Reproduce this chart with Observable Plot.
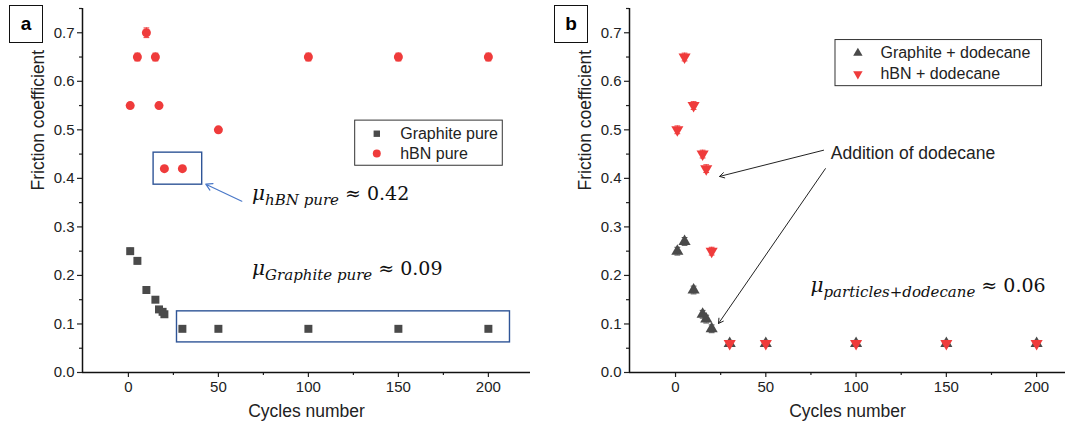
<!DOCTYPE html>
<html><head><meta charset="utf-8">
<script src="https://cdn.jsdelivr.net/npm/d3@7"></script>
<script src="https://cdn.jsdelivr.net/npm/@observablehq/plot@0.6"></script>
<style>
body{margin:0;background:#fff;font-family:"Liberation Sans",Arial,sans-serif}
#wrap{position:relative;width:1076px;height:434px;display:flex;overflow:hidden}
.tag{position:absolute;top:5px;width:34px;height:38px;border:1.5px solid #111;font:bold 19px "Liberation Sans",Arial,sans-serif;display:flex;align-items:center;justify-content:center;box-sizing:border-box;background:#fff}
</style></head><body>
<div id="wrap"><div class="tag" style="left:9px">a</div><div class="tag" style="left:554px">b</div></div>
<script>
// ---- data ----
const graphitePureX = [1,5,10,15,17,19,20,30,50,100,150,200];
const graphitePureY = [0.25,0.23,0.17,0.15,0.13,0.125,0.12,0.09,0.09,0.09,0.09,0.09];
const graphitePureErr = [0.006,0.006,0.005,0.005,0.005,0.005,0.005,0.003,0.003,0.003,0.003,0.003];
const hbnPureX = [1,5,10,15,17,20,30,50,100,150,200];
const hbnPureY = [0.55,0.65,0.70,0.65,0.55,0.42,0.42,0.50,0.65,0.65,0.65];
const hbnPureErr = [0.006,0.008,0.01,0.008,0.006,0.004,0.004,0.004,0.008,0.008,0.008];
const graphiteDodX = [1,5,10,15,17,20,30,50,100,150,200];
const graphiteDodY = [0.25,0.27,0.17,0.12,0.11,0.09,0.06,0.06,0.06,0.06,0.06];
const graphiteDodErr = [0.008,0.008,0.008,0.008,0.008,0.008,0.006,0.006,0.006,0.006,0.006];
const hbnDodX = [1,5,10,15,17,20,30,50,100,150,200];
const hbnDodY = [0.50,0.65,0.55,0.45,0.42,0.25,0.06,0.06,0.06,0.06,0.06];
const hbnDodErr = [0.008,0.008,0.008,0.008,0.008,0.008,0.006,0.006,0.006,0.006,0.006];
const yTicks = [0,0.1,0.2,0.3,0.4,0.5,0.6,0.7];
const yMinor = [0.05,0.15,0.25,0.35,0.45,0.55,0.65,0.75];
const xTicks = [0,50,100,150,200];
const xMinor = [25,75,125,175];
const legendA = ["Graphite pure","hBN pure"];
const legendB = ["Graphite + dodecane","hBN + dodecane"];

const RED = "#ef3b3b", GRAY = "#4a4a4a", BLUE = "#2f5597", ABLUE = "#4a78c8";
const zip = (xs, ys, es) => xs.map((x,i)=>({x, y: ys[i], e: es[i]}));
const triDown = {draw(ctx, size){const s3=Math.sqrt(3);const y=-Math.sqrt(size/(s3*3));ctx.moveTo(0,-y*2);ctx.lineTo(-s3*y,y);ctx.lineTo(s3*y,y);ctx.closePath();}};

function errMarks(data, color){
  return [
    Plot.ruleX(data,{x:"x",y1:d=>d.y-d.e,y2:d=>d.y+d.e,stroke:color,strokeWidth:1}),
    Plot.link(data,{x1:d=>d.x-1.6,x2:d=>d.x+1.6,y1:d=>d.y+d.e,y2:d=>d.y+d.e,stroke:color,strokeWidth:1}),
    Plot.link(data,{x1:d=>d.x-1.6,x2:d=>d.x+1.6,y1:d=>d.y-d.e,y2:d=>d.y-d.e,stroke:color,strokeWidth:1})
  ];
}
function muMark(xv, yv, sub, rest){
  return (index, scales) => {
    const ns="http://www.w3.org/2000/svg";
    const t=document.createElementNS(ns,"text");
    t.setAttribute("x", scales.x(xv)); t.setAttribute("y", scales.y(yv));
    t.setAttribute("text-anchor","start");
    t.setAttribute("font-family","DejaVu Serif, serif"); t.setAttribute("fill","#111");
    const a=document.createElementNS(ns,"tspan"); a.setAttribute("font-style","italic"); a.setAttribute("font-size","20"); a.textContent="μ";
    const b=document.createElementNS(ns,"tspan"); b.setAttribute("font-style","italic"); b.setAttribute("font-size","15"); b.setAttribute("dy","5"); b.textContent=sub;
    const c=document.createElementNS(ns,"tspan"); c.setAttribute("font-size","19"); c.setAttribute("dy","-5"); c.textContent=" ≈ "+rest;
    t.append(a,b,c);
    const g=document.createElementNS(ns,"g"); g.append(t); return g;
  };
}
function axes(xdom){
  return [
    Plot.axisY(yTicks,{tickSize:5,tickPadding:3,fontSize:15,label:null,strokeWidth:1.2}),
    Plot.axisY(yMinor,{tickSize:3,tickFormat:()=>"",label:null,strokeWidth:1.2}),
    Plot.axisX(xTicks,{tickSize:5,tickPadding:4,fontSize:15,label:null,strokeWidth:1.2}),
    Plot.axisX(xMinor,{tickSize:3,tickFormat:()=>"",label:null,strokeWidth:1.2}),
    Plot.ruleY([0],{stroke:"#111",strokeWidth:1.5}),
    Plot.ruleX([xdom[0]],{stroke:"#111",strokeWidth:1.5}),
    Plot.text(["Friction coefficient"],{text:d=>d,frameAnchor:"left",rotate:-90,dx:-44,fontSize:17.5,fill:"#222"}),
    Plot.text(["Cycles number"],{text:d=>d,frameAnchor:"bottom",dy:44,fontSize:17.5,fill:"#222"})
  ];
}
const common = {width:538,height:434,marginTop:8,marginBottom:62,
  y:{domain:[0,0.75]},
  style:{fontFamily:"Liberation Sans, Arial, sans-serif",color:"#222",background:"white",overflow:"visible"}};

// ---- panel a ----
const gp = zip(graphitePureX, graphitePureY, graphitePureErr);
const hp = zip(hbnPureX, hbnPureY, hbnPureErr);
const xdomA = [-25.5, 223.4];
const plotA = Plot.plot({...common, marginLeft:82, marginRight:8, x:{domain:xdomA},
  marks:[
    ...axes(xdomA),
    ...errMarks(gp, GRAY), ...errMarks(hp, RED),
    Plot.dot(gp,{x:"x",y:"y",symbol:"square",r:4.5,fill:GRAY}),
    Plot.dot(hp,{x:"x",y:"y",symbol:"circle",r:4.5,fill:RED}),
    Plot.rect([0],{x1:14,x2:41,y1:0.387,y2:0.453,stroke:BLUE,fill:"none",strokeWidth:1.4}),
    Plot.rect([0],{x1:27,x2:212,y1:0.062,y2:0.126,stroke:BLUE,fill:"none",strokeWidth:1.4}),
    Plot.arrow([0],{x1:63,y1:0.353,x2:43,y2:0.388,stroke:ABLUE,strokeWidth:1.2,headLength:9}),
    muMark(69, 0.354, "hBN pure", "0.42"),
    muMark(69, 0.200, "Graphite pure", "0.09"),
    Plot.rect([0],{x1:126,x2:208,y1:0.426,y2:0.519,stroke:"#333",fill:"white",strokeWidth:1}),
    Plot.dot([0.492],{x:138,y:d=>d,symbol:"square",r:3.6,fill:GRAY}),
    Plot.dot([0.451],{x:138,y:d=>d,symbol:"circle",r:4,fill:RED}),
    Plot.text(legendA,{x:151,y:(d,i)=>[0.492,0.451][i],text:d=>d,textAnchor:"start",fontSize:16,fill:"#222"})
  ]});

// ---- panel b ----
const gd = zip(graphiteDodX, graphiteDodY, graphiteDodErr);
const hd = zip(hbnDodX, hbnDodY, hbnDodErr);
const xdomB = [-25.5, 216];
const plotB = Plot.plot({...common, marginLeft:91, marginRight:11, x:{domain:xdomB},
  marks:[
    ...axes(xdomB),
    ...errMarks(gd, GRAY), ...errMarks(hd, RED),
    Plot.dot(gd,{x:"x",y:"y",symbol:"triangle",r:4.5,fill:GRAY}),
    Plot.dot(hd,{x:"x",y:"y",symbol:triDown,r:4.5,fill:RED}),
    Plot.arrow([0],{x1:82,y1:0.458,x2:24.4,y2:0.404,stroke:"#222",strokeWidth:1,headLength:8}),
    Plot.arrow([0],{x1:83,y1:0.42,x2:23.8,y2:0.101,stroke:"#222",strokeWidth:1,headLength:8}),
    Plot.text(["Addition of dodecane"],{x:86,y:0.452,text:d=>d,textAnchor:"start",fontSize:17.5,fill:"#222"}),
    muMark(75, 0.165, "particles+dodecane", "0.06"),
    Plot.rect([0],{x1:88.6,x2:203,y1:0.59,y2:0.685,stroke:"#333",fill:"white",strokeWidth:1}),
    Plot.dot([0.658],{x:101,y:d=>d,symbol:"triangle",r:3.5,fill:GRAY}),
    Plot.dot([0.615],{x:101,y:d=>d,symbol:triDown,r:3.5,fill:RED}),
    Plot.text(legendB,{x:113.5,y:(d,i)=>[0.658,0.615][i],text:d=>d,textAnchor:"start",fontSize:16,fill:"#222"})
  ]});

const wrap = document.getElementById("wrap");
wrap.prepend(plotA, plotB);
</script>
</body></html>
